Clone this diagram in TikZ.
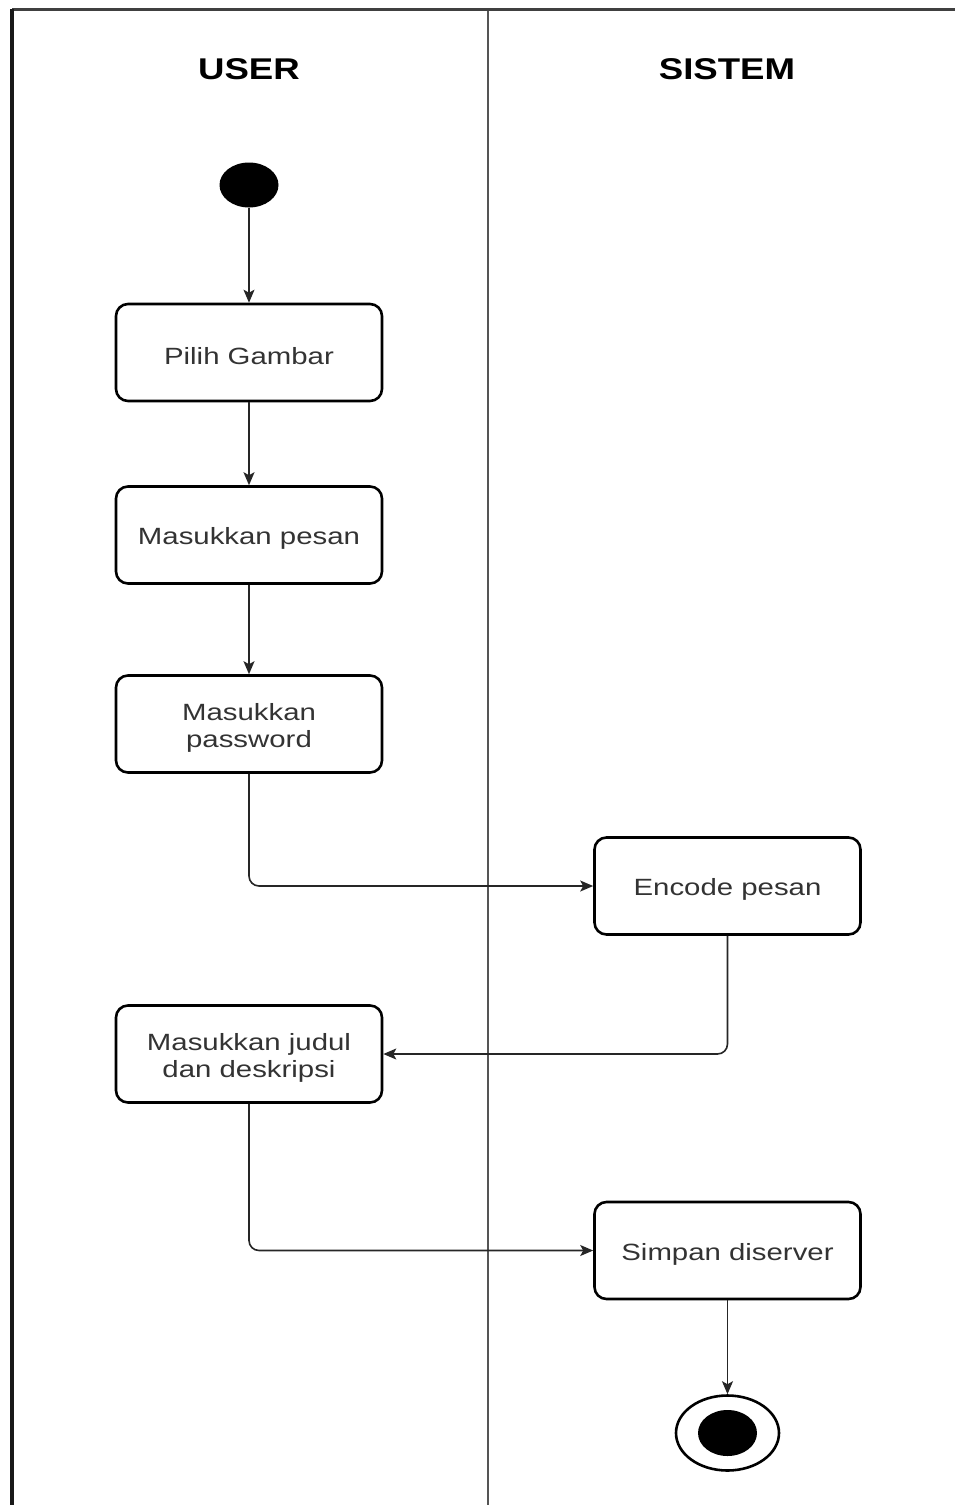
\documentclass[tikz,border=0pt]{standalone}
\usepackage{fontspec}
\usetikzlibrary{shapes.geometric,arrows.meta}
\newfontfamily\lanefont[FakeStretch=1.22]{Liberation Sans}
\newfontfamily\actfont[FakeStretch=1.25]{Liberation Sans}
\definecolor{txt}{HTML}{333333}
\definecolor{lane}{HTML}{555555}
\tikzset{
  act/.style={draw=black, line width=2.6pt, rounded corners=12pt, fill=white,
    minimum width=266pt, minimum height=97pt},
  acttext/.style={align=center, text=txt, yshift=-3.5pt,
    font=\actfont\fontsize{23.5}{27}\selectfont},
  lanehead/.style={font=\lanefont\bfseries\fontsize{30}{34}\selectfont, text=black},
  conn/.style={draw=black!85, line width=1.6pt, rounded corners=10pt,
    -{Stealth[length=13pt,width=11pt,inset=3pt]}},
  startnode/.style={ellipse, fill=black, inner sep=0pt, minimum width=59pt, minimum height=45pt},
  endring/.style={ellipse, draw=black, line width=2.6pt, fill=white, inner sep=0pt,
    minimum width=103pt, minimum height=75pt},
  enddot/.style={ellipse, fill=black, inner sep=0pt, minimum width=59pt, minimum height=46pt}
}
\begin{document}
\begin{tikzpicture}[x=1pt,y=-1pt]
\useasboundingbox (0,0) rectangle (955,1505);
% swimlane frame
\draw[lane, line width=1.8pt] (488,9) -- (488,1505);
\draw[black!75, line width=3pt] (955,9) -- (12,9);
\draw[black!90, line width=3.4pt] (12,9) -- (12,1505);
\node[lanehead] (huser) at (249,69) {USER};
\node[lanehead] (hsis) at (727,69) {SISTEM};
% activities
\node[startnode] (start) at (249,185) {};
\node[act, label={[acttext]center:Pilih Gambar}] (pilih) at (249,352.5) {};
\node[act, label={[acttext]center:Masukkan pesan}] (pesan) at (249,535) {};
\node[act, label={[acttext]center:{Masukkan\\password}}] (pass) at (249,724) {};
\node[act, label={[acttext]center:Encode pesan}] (enc) at (727.5,886) {};
\node[act, label={[acttext]center:{Masukkan judul\\dan deskripsi}}] (judul) at (249,1054) {};
\node[act, label={[acttext]center:Simpan diserver}] (simpan) at (727.5,1250.5) {};
\node[endring] (fin) at (727.5,1433) {};
\node[enddot] (findot) at (fin.center) {};
% flow
\draw[conn] (start) -- (pilih);
\draw[conn] (pilih) -- (pesan);
\draw[conn] (pesan) -- (pass);
\draw[conn] (pass.south) |- (enc.west);
\draw[conn] (enc.south) |- (judul.east);
\draw[conn] (judul.south) |- (simpan.west);
\draw[conn] (simpan) -- (fin);
\end{tikzpicture}
\end{document}
